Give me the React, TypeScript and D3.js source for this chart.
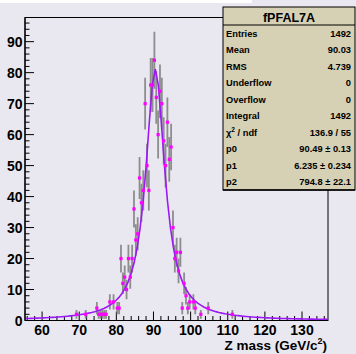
import React from "react";
import * as d3 from "d3";

// ---- data ----
const binCenters = [
  69.25, 71.75, 74.75, 75.25, 75.75, 76.25, 76.75, 77.25, 78.25, 79.25,
  80.25, 80.75, 81.25, 81.75, 82.25, 82.75, 83.25, 83.75, 84.25, 84.75,
  85.25, 85.75, 86.25, 86.75, 87.25, 87.75, 88.25, 88.75, 89.25, 89.75,
  90.25, 90.75, 91.25, 91.75, 92.25, 92.75, 93.25, 93.75, 94.25, 94.75,
  95.25, 95.75, 96.25, 96.75, 97.25, 97.75, 98.25, 98.75, 99.25, 99.75,
  100.75, 101.25, 102.75, 104.75, 111.25,
];
const binCounts = [
  2, 2, 4, 2, 2, 2, 2, 2, 6, 6,
  4, 4, 20, 12, 14, 10, 20, 14, 20, 36,
  26, 28, 46, 38, 42, 70, 50, 42, 76, 76,
  84, 72, 60, 74, 70, 58, 50, 64, 52, 56,
  30, 20, 22, 16, 22, 4, 12, 8, 4, 6,
  6, 4, 2, 4, 2,
];
const fitP0 = 90.49;
const fitP1 = 6.235;
const fitP2 = 794.8;
const xDomain = [55.4, 137.0];
const yDomain = [0, 97.8];
const xTickValues = [60, 70, 80, 90, 100, 110, 120, 130];
const yTickValues = [0, 10, 20, 30, 40, 50, 60, 70, 80, 90];
const histTitle = "fPFAL7A";
const statLabels = ["Entries", "Mean", "RMS", "Underflow", "Overflow", "Integral", "CHI2", "p0", "p1", "p2"];
const statValues = ["1492", "90.03", "4.739", "0", "0", "1492", "136.9 / 55", "90.49 \u00b1 0.13", "6.235 \u00b1 0.234", "794.8 \u00b1 22.1"];
const xTitleMain = "Z mass (GeV/c";
const xTitleSup = "2";
const xTitleEnd = ")";

// ---- layout ----
const W = 356;
const H = 354;
const fL = 25, fR = 328, fT = 17.5, fB = 320.5;
const FONT = "'Liberation Sans', Arial, Helvetica, sans-serif";
const BG = "#e9e8f0";

export default function App() {
  const x = d3.scaleLinear().domain(xDomain).range([fL, fR]);
  const y = d3.scaleLinear().domain(yDomain).range([fB, fT]);

  const bw = (xv: number) =>
    (fitP2 * (fitP1 / (2 * Math.PI))) / ((xv - fitP0) ** 2 + (fitP1 * fitP1) / 4);
  const samples = d3.range(0, 101).map((i) => xDomain[0] + (i * (xDomain[1] - xDomain[0])) / 100);
  const line = d3
    .line<number>()
    .x((d) => x(d))
    .y((d) => y(bw(d)));

  const xMinor = d3.range(56, 137, 2);
  const yMinor = d3.range(0, 98, 2);

  const box = { x: 223, y: 7, w: 132, h: 183 };
  const rowY0 = 36.5;
  const rowDy = 16.55;

  return (
    <svg
      width={W}
      height={H}
      style={{ position: "absolute", left: 0, top: 0, display: "block" }}
      fontFamily={FONT}
    >
      <rect x={0} y={0} width={W} height={H} fill={BG} />
      <rect x={0} y={0} width={252} height={3} fill="#ffffff" />
      <defs>
        <clipPath id="frameclip">
          <rect x={fL} y={fT} width={fR - fL} height={fB - fT} />
        </clipPath>
      </defs>
      {/* frame */}
      <rect x={fL} y={fT} width={fR - fL} height={fB - fT} fill={BG} stroke="#000" strokeWidth={1} />

      {/* y ticks */}
      {yMinor.map((v) => (
        <line
          key={"ym" + v}
          x1={fL}
          x2={fL + (v % 10 === 0 ? 9 : 4.5)}
          y1={y(v)}
          y2={y(v)}
          stroke="#000"
          strokeWidth={1}
        />
      ))}
      {yTickValues.map((v) => (
        <text
          key={"yl" + v}
          x={22.5}
          y={y(v)}
          dy="0.36em"
          textAnchor="end"
          fontSize={14}
          fontWeight="bold"
          fill="#000"
        >
          {v}
        </text>
      ))}
      {/* x ticks */}
      {xMinor.map((v) => (
        <line
          key={"xm" + v}
          x1={x(v)}
          x2={x(v)}
          y1={fB}
          y2={fB - (v % 10 === 0 ? 9 : 4.5)}
          stroke="#000"
          strokeWidth={1}
        />
      ))}
      {xTickValues.map((v) => (
        <text
          key={"xl" + v}
          x={x(v)}
          y={334.5}
          textAnchor="middle"
          fontSize={14}
          fontWeight="bold"
          fill="#000"
        >
          {v}
        </text>
      ))}
      <text x={327} y={349.5} textAnchor="end" fontSize={13.5} fontWeight="bold" fill="#000">
        {xTitleMain}
        <tspan fontSize={9} dy={-6}>
          {xTitleSup}
        </tspan>
        <tspan dy={6}>{xTitleEnd}</tspan>
      </text>

      {/* data */}
      <g clipPath="url(#frameclip)">
        {binCenters.map((c, i) => {
          const n = binCounts[i];
          const e = Math.sqrt(n);
          return (
            <line
              key={"e" + i}
              x1={x(c)}
              x2={x(c)}
              y1={y(n - e)}
              y2={y(n + e)}
              stroke="#7c7c7c"
              strokeWidth={1.8}
              strokeOpacity={0.85}
            />
          );
        })}
        <path d={line(samples) || ""} fill="none" stroke="#9b19f5" strokeWidth={1.6} />
        {binCenters.map((c, i) => (
          <rect
            key={"m" + i}
            x={x(c) - 1.6}
            y={y(binCounts[i]) - 1.6}
            width={3.2}
            height={3.2}
            fill="#ff00ff"
          />
        ))}
      </g>
      <line x1={fL} x2={fL} y1={fT} y2={fB} stroke="#000" strokeWidth={1.2} />
      <line x1={fL} x2={fR} y1={fB} y2={fB} stroke="#000" strokeWidth={1.2} />

      {/* stats box */}
      <rect x={box.x} y={box.y} width={box.w} height={box.h} fill="#d6d1b4" stroke="#000" strokeWidth={1} />
      <line x1={box.x} x2={box.x + box.w} y1={box.y + box.h} y2={box.y + box.h} stroke="#000" strokeWidth={1.5} />
      <text
        x={box.x + box.w / 2}
        y={21.5}
        textAnchor="middle"
        fontSize={12.5}
        fontWeight="bold"
        fill="#000"
      >
        {histTitle}
      </text>
      <line x1={box.x} x2={box.x + box.w} y1={25} y2={25} stroke="#000" strokeWidth={1} />
      {statLabels.map((lab, i) => (
        <text key={"sl" + i} x={226} y={rowY0 + i * rowDy} fontSize={9.3} fontWeight="bold" fill="#000">
          {lab === "CHI2" ? (
            <>
              {"\u03c7"}
              <tspan fontSize={6.5} dy={-3.5}>
                2
              </tspan>
              <tspan dy={3.5}>{" / ndf"}</tspan>
            </>
          ) : (
            lab
          )}
        </text>
      ))}
      {statValues.map((v, i) => (
        <text
          key={"sv" + i}
          x={351}
          y={rowY0 + i * rowDy}
          textAnchor="end"
          fontSize={9.3}
          fontWeight="bold"
          fill="#000"
        >
          {v}
        </text>
      ))}
    </svg>
  );
}
